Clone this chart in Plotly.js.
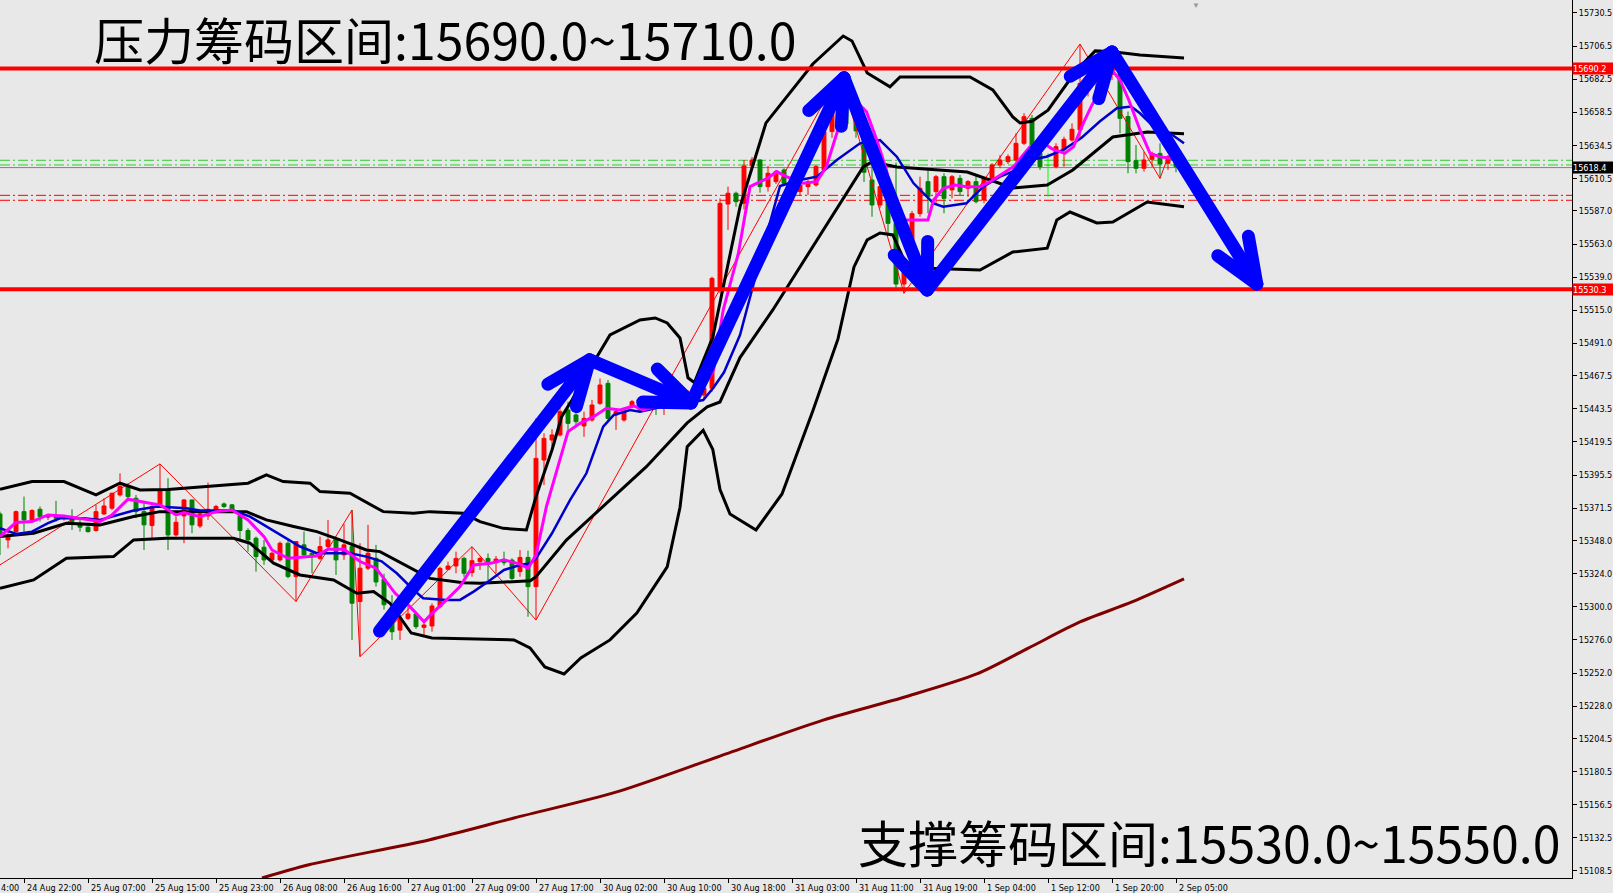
<!DOCTYPE html>
<html><head><meta charset="utf-8">
<script src="https://cdn.plot.ly/plotly-3.0.1.min.js"></script>
<style>html,body{margin:0;padding:0;background:#e8e8e8;overflow:hidden}#chart{width:1613px;height:893px}</style>
</head><body><div id="chart"></div>
<script>
// ---------- DATA ----------
const FIRST_BAR = -3; // bar index of first candle (H1 bars)
const openP = [15367.3,15348.5,15354.5,15369.0,15363.0,15370.7,15365.0,15365.9,15364.0,15364.2,15360.6,15357.7,15355.3,
15367.3,15371.5,15381.1,15387.2,15378.7,15369.0,15358.9,15373.9,15385.2,15352.1,
15365.9,15377.5,15358.6,15365.9,15369.0,15374.6,15373.9,15365.9,15355.3,15349.7,
15343.2,15334.0,15334.0,15346.1,15321.9,15344.9,15338.8,15335.2,15343.7,15348.5,
15337.6,15343.7,15303.8,15328.0,15335.2,15320.0,15295.2,15283.1,15291.6,15294.8,
15285.1,15286.1,15300.1,15327.2,15329.6,15335.1,15324.8,15332.7,15335.1,15332.0,
15334.0,15333.9,15325.5,15335.8,15314.6,15406.4,15420.9,15424.6,15442.7,15439.1,
15431.1,15435.4,15447.5,15462.0,15439.1,15435.4,15445.1,15448.7,15445.1,15447.5,
15443.9,15446.3,15451.0,15448.0,15449.9,15453.5,15458.4,15529.7,15592.0,15599.8,
15592.5,15619.6,15623.9,15604.6,15608.2,15616.7,15607.0,15601.0,15604.6,15605.8,
15616.7,15644.5,15672.3,15677.0,15668.0,15645.0,15609.4,15591.3,15603.0,15578.0,
15534.0,15545.0,15585.0,15608.2,15601.0,15611.8,15602.2,15610.6,15603.4,15608.2,
15594.9,15610.6,15620.3,15622.7,15623.9,15636.0,15654.1,15628.8,15620.0,15619.1,
15631.2,15638.4,15645.7,15679.5,15684.0,15690.0,15686.0,15686.8,15655.4,15623.4,
15617.9,15624.4,15628.7,15621.5,15626.3,15619.5];
const highP = [15369.0,15354.5,15369.8,15379.9,15370.7,15372.7,15367.3,15376.8,15366.6,15370.7,15363.0,15358.6,15373.9,
15378.7,15382.8,15396.8,15389.6,15381.1,15375.1,15375.1,15403.6,15393.2,15365.4,
15378.0,15377.5,15369.0,15390.1,15373.9,15375.6,15374.6,15369.0,15357.0,15350.9,
15348.5,15340.0,15347.3,15348.5,15347.5,15354.5,15339.5,15350.9,15363.0,15350.9,
15360.0,15370.2,15346.1,15359.4,15344.9,15324.0,15308.5,15294.0,15300.0,15296.0,
15288.0,15302.5,15329.1,15332.7,15340.0,15336.3,15343.6,15336.3,15338.7,15336.8,
15340.0,15335.1,15341.2,15340.7,15436.6,15425.8,15428.7,15446.3,15448.7,15445.1,
15441.5,15450.0,15465.5,15464.4,15443.9,15443.9,15450.0,15450.0,15449.0,15448.7,
15446.8,15453.0,15454.0,15457.0,15456.0,15460.0,15539.3,15596.1,15604.6,15601.0,
15623.9,15626.0,15624.4,15619.6,15616.7,15617.9,15610.0,15607.0,15609.4,15620.3,
15649.3,15674.0,15686.8,15680.0,15672.0,15650.0,15621.5,15609.0,15606.0,15622.0,
15548.0,15587.0,15611.8,15616.7,15613.0,15614.3,15613.0,15613.0,15609.4,15613.0,
15611.8,15621.5,15627.5,15628.0,15643.3,15657.8,15656.5,15631.2,15628.7,15636.0,
15640.8,15650.5,15708.0,15690.0,15695.0,15700.0,15698.0,15691.6,15659.0,15634.8,
15629.9,15630.0,15636.0,15627.5,15628.0,15622.0];
const lowP = [15337.6,15342.4,15353.3,15354.5,15361.8,15361.8,15363.0,15361.8,15362.5,15355.7,15354.5,15353.8,15354.5,
15366.6,15370.2,15379.9,15378.7,15364.2,15341.2,15348.5,15372.7,15341.2,15350.9,
15346.1,15353.3,15357.0,15363.0,15367.8,15371.5,15369.0,15348.5,15340.0,15325.5,
15330.4,15332.8,15332.8,15320.7,15303.8,15336.4,15324.3,15334.0,15341.2,15323.1,
15334.0,15276.0,15263.9,15326.7,15314.7,15298.0,15275.9,15276.0,15290.4,15284.0,
15278.0,15282.0,15298.9,15326.7,15324.3,15321.8,15321.8,15326.7,15319.4,15324.3,
15330.0,15319.4,15321.8,15292.8,15290.4,15388.3,15416.1,15423.4,15428.2,15430.6,
15423.3,15434.2,15446.3,15434.2,15428.2,15434.2,15443.9,15441.5,15443.9,15439.1,
15439.1,15444.0,15445.0,15446.0,15447.0,15451.0,15456.0,15527.3,15573.2,15590.0,
15588.0,15616.0,15600.2,15601.0,15606.5,15606.5,15600.0,15598.0,15598.5,15604.6,
15615.5,15640.0,15670.0,15650.0,15640.0,15608.0,15582.8,15589.0,15570.0,15530.0,
15527.3,15543.0,15582.8,15585.3,15592.5,15585.3,15596.1,15598.5,15597.3,15592.5,
15592.5,15609.4,15618.0,15621.0,15622.7,15634.8,15623.9,15616.7,15597.3,15617.9,
15619.1,15637.2,15639.6,15670.0,15675.0,15680.0,15682.0,15643.3,15614.3,15614.3,
15615.5,15619.0,15610.6,15616.7,15615.0,15616.0];
const closeP = [15350.9,15352.1,15369.0,15363.0,15369.8,15365.4,15366.6,15364.2,15365.4,15361.8,15357.7,15354.5,15369.0,
15373.1,15382.3,15387.2,15379.9,15369.0,15359.4,15372.7,15384.7,15352.1,15361.3,
15377.5,15359.4,15367.3,15370.7,15372.7,15372.7,15370.2,15355.3,15348.5,15336.4,
15334.0,15338.8,15346.1,15321.9,15347.3,15337.6,15337.6,15343.7,15348.5,15334.0,
15344.9,15302.6,15328.0,15338.8,15318.0,15301.5,15281.9,15291.6,15294.8,15285.6,
15286.8,15300.6,15327.9,15329.6,15335.1,15324.3,15333.4,15335.1,15332.7,15334.6,
15332.0,15320.6,15335.8,15314.6,15407.6,15422.1,15424.6,15441.5,15433.0,15434.2,
15436.6,15446.3,15460.8,15436.6,15441.5,15441.5,15448.7,15442.7,15447.5,15443.9,
15446.3,15451.0,15448.0,15455.0,15453.5,15458.4,15538.1,15592.5,15599.8,15593.7,
15619.6,15623.9,15604.6,15614.3,15615.5,15607.0,15603.0,15605.8,15608.2,15619.1,
15644.5,15672.3,15684.4,15668.0,15645.0,15615.0,15591.3,15604.6,15578.0,15534.0,
15546.0,15585.0,15603.4,15597.3,15611.8,15596.1,15611.8,15601.0,15608.2,15593.7,
15610.6,15620.3,15623.9,15626.3,15636.0,15655.3,15634.8,15619.1,15620.0,15633.6,
15638.9,15646.2,15679.5,15684.0,15690.0,15686.0,15687.0,15654.1,15622.7,15617.9,
15623.9,15628.7,15621.0,15626.3,15619.0,15618.4];

// Bollinger bands
const bbUpIdx = [-3,1,5,9,12,14.5,18,28,30.3,32.4,35.75,37,40.75,44.9,48.7,50.75,54.9,57,59.9,62.8,64,66,67.2,68.5,71.6,73.25,77,78.9,80.4,82,83,83.8,86.1,89.5,92.75,98.6,102.4,103.5,105.4,108.25,109.5,118.25,121.1,123.6,124.5,126,128,131.4,133.9,136.1,139.5,143.25,145];
const bbUp = [15385.2,15390.8,15390.8,15381.1,15389.6,15384.7,15385.0,15389.6,15395.6,15390.8,15389.6,15383.5,15382.3,15369.0,15367.8,15369.0,15367.8,15361.7,15356.9,15355.7,15379.9,15413.7,15437.8,15449.9,15481.1,15497.1,15508.0,15509.4,15505.8,15494.9,15466.0,15462.5,15495.6,15589.9,15650.8,15693.5,15713.8,15710.2,15687.0,15676.9,15684.1,15684.1,15674.7,15655.1,15650.8,15652.0,15660.0,15687.7,15703.0,15702.4,15700.0,15698.8,15697.9];
const bbMidIdx = [-3,1.2,5.3,9.5,13.7,17,27.8,30.3,33.7,36.6,39.5,42.8,44.5,48.7,50.75,54.9,57,63.3,64,67.8,73.7,77.8,82.9,85.4,87,89.5,93.6,104.9,106,109.1,117.9,120.75,123.6,127.9,131.1,136.1,140.4,145];
const bbMid = [15350.9,15353.3,15360.6,15359.4,15365.4,15369.0,15369.0,15363.0,15358.2,15354.5,15348.5,15341.2,15340.0,15326.7,15320.6,15317.5,15317.0,15318.9,15321.8,15348.4,15379.8,15401.6,15433.3,15444.9,15448.5,15480.7,15515.2,15618.9,15622.5,15618.9,15615.2,15609.4,15603.6,15605.8,15616.7,15640.6,15644.2,15643.0];
const bbLowIdx = [-3,1.2,5.3,11.2,13.7,17.8,26.2,28.25,31.2,34.5,38.7,41.6,43.7,45.75,48.4,51,61.25,63.25,65.1,67.5,69.6,73.25,76.6,80.4,82,82.9,84.9,86.1,87,88.25,91.5,94.75,98.6,101.75,103.75,105.4,107,108.6,110.4,112,119.5,123.6,127.9,129.1,130.75,134.1,136.1,140.4,145];
const bbLow = [15313.4,15319.5,15335.2,15336.4,15348.5,15349.7,15349.7,15346.1,15331.6,15323.1,15319.5,15309.8,15311.0,15302.6,15281.0,15277.4,15276.0,15270.2,15256.4,15251.3,15262.9,15276.0,15295.5,15329.0,15372.0,15416.0,15428.0,15414.0,15385.0,15367.3,15355.7,15381.8,15442.0,15494.2,15546.4,15566.0,15571.0,15569.6,15546.4,15545.6,15544.2,15557.2,15560.0,15580.4,15586.2,15578.3,15579.0,15593.5,15590.0];

// Fast MA (magenta)
const fastIdx = [-3,-1,1,3,5,9.5,11,13,15.75,17,19,20,22,24,26,28,30,31,33,36.5,38,40,42,44,46.4,48.25,50,51,52.8,54.5,56.2,58.3,60,62,63,64,65.3,67,68,69.5,71.2,72.8,74.5,76.2,77.4,79,80.75,82.8,84.5,86.2,87.4,89.3,90.75,92.9,94.1,95.3,97.4,99.1,100.3,101.6,102.8,104.5,105.3,106.6,107.8,109.1,113,113.7,114.9,116.4,117.8,119.5,120.75,123.7,125.75,127.8,128.5,130.1,131.2,132.4,133.5,136,137,138.1,139.5,140.75,142,143.25,145];
const fastMA = [15350.9,15361.1,15361.8,15366.6,15365.9,15361.8,15366.6,15378.0,15375.1,15373.9,15366.6,15368.3,15365.4,15369.0,15370.2,15363.0,15350.9,15341.2,15335.2,15336.9,15341.7,15341.7,15332.8,15328.0,15309.8,15300.1,15289.2,15295.3,15304.9,15314.6,15330.3,15331.5,15334.0,15331.0,15327.9,15337.5,15372.6,15406.4,15427.0,15433.0,15437.8,15443.9,15442.7,15445.6,15442.7,15445.1,15446.3,15447.5,15454.8,15471.7,15515.2,15556.3,15604.6,15610.6,15615.5,15611.8,15607.0,15608.2,15619.1,15643.3,15662.6,15663.8,15659.0,15638.4,15616.7,15580.4,15580.4,15594.9,15603.4,15605.8,15604.6,15604.6,15608.2,15619.1,15633.6,15634.8,15632.0,15628.7,15633.6,15650.5,15663.8,15689.0,15681.9,15667.4,15645.7,15628.7,15626.3,15625.1,15621.5];
// Slow MA (blue)
const slowIdx = [-3,-1,1,3,4.5,7.5,9.5,13.7,16.6,20.3,22,26.2,28.25,30.3,32.4,34.5,36.6,40.75,42.8,44.7,46.6,48.7,49.9,52.8,54.5,56.2,58.3,60,62,63.3,64,66,68.25,70.3,72.4,73.7,75.75,77,79.9,82.8,84.9,86.2,87.5,89.5,92.75,94.5,97,99.1,101.6,104.5,107,109.1,111.2,113.7,114.9,117.8,119.9,122,124.1,125.75,127.8,129.9,132.2,134.5,136.6,138.4,139.5,141.2,143.25,145];
const slowMA = [15357.0,15352.8,15354.5,15360.6,15364.2,15364.2,15363.0,15369.8,15372.7,15371.5,15369.8,15369.8,15365.4,15358.2,15350.9,15343.7,15338.8,15338.8,15336.4,15333.0,15324.3,15312.2,15306.2,15305.0,15305.0,15311.0,15319.4,15326.7,15330.3,15331.5,15335.1,15353.3,15377.4,15396.8,15430.6,15439.0,15442.7,15441.5,15445.1,15447.5,15449.9,15459.0,15470.0,15497.0,15568.0,15605.0,15609.4,15611.8,15623.9,15636.0,15638.4,15626.3,15607.0,15592.5,15590.1,15592.5,15604.6,15611.8,15616.7,15623.9,15626.3,15631.2,15640.0,15652.0,15661.5,15662.6,15657.8,15648.1,15643.3,15636.0];
// Long MA (dark red)
const longIdx = [29.75,35.6,50.6,61.25,74.1,87,99.9,110.1,119.1,125.6,132,138.5,145];
const longMA = [15103.4,15113.0,15131.0,15146.9,15165.8,15191.8,15217.9,15234.6,15251.3,15270.2,15289.0,15303.5,15320.2];
// ZigZag
const zzIdx = [-3,17,34,41,42,56,64,102,110,132,142,143];
const zzPrice = [15330.4,15403.6,15303.8,15370.2,15263.9,15343.6,15290.4,15686.8,15527.3,15708.0,15610.6,15626.3];
// Hand-drawn blue arrows (path vertices)
const arrowIdx = [44.3,70.7,83.4,102.5,112.9,136.0,154.1];
const arrowPrice = [15281.3,15479.0,15447.8,15683.5,15529.7,15702.2,15534.0];

// horizontal levels
const resistLevel = 15690.2, supportLevel = 15530.3, lastPrice = 15618.4;
const greenLevels = [15623.7, 15620.3];
const redLevels = [15598.3, 15594.7];

// axis ticks
const xTickIdx = [0,8,16,24,32,40,48,56,64,72,80,88,96,104,112,120,128,136,144];
const xTickText = ['24 Aug 22:00','25 Aug 07:00','25 Aug 15:00','25 Aug 23:00','26 Aug 08:00','26 Aug 16:00','27 Aug 01:00','27 Aug 09:00','27 Aug 17:00','30 Aug 02:00','30 Aug 10:00','30 Aug 18:00','31 Aug 03:00','31 Aug 11:00','31 Aug 19:00','1 Sep 04:00','1 Sep 12:00','1 Sep 20:00','2 Sep 05:00'];
const yTickVals = [15730.5,15706.5,15682.5,15658.5,15634.5,15610.5,15587.0,15563.0,15539.0,15515.0,15491.0,15467.5,15443.5,15419.5,15395.5,15371.5,15348.0,15324.0,15300.0,15276.0,15252.0,15228.0,15204.5,15180.5,15156.5,15132.5,15108.5];

const titleTop = '压力筹码区间:15690.0~15710.0';
const titleBottom = '支撑筹码区间:15530.0~15550.0';

// ---------- BUILD ----------
const W = 1613, H = 893, ML = 0, MR = 41, MT = 0, MB = 15;
const PW = W - ML - MR, PH = H - MT - MB;
const XR = [-3, 193.5], YR = [15103.4, 15739.9];
const smallFont = {family: '"DejaVu Sans Condensed","Liberation Sans",sans-serif', size: 9, color: '#000'};

const cx=[],co=[],ch=[],cl=[],cc=[], dx=[],dO=[],dH=[],dL=[],dC=[];
openP.forEach((o,k)=>{
  const i = FIRST_BAR + k;
  if (o === closeP[k]) { dx.push(i); dO.push(o); dH.push(highP[k]); dL.push(lowP[k]); dC.push(closeP[k]); }
  else { cx.push(i); co.push(o); ch.push(highP[k]); cl.push(lowP[k]); cc.push(closeP[k]); }
});

const lineTrace = (x,y,color,width,extra)=>Object.assign({type:'scatter',mode:'lines',x:x,y:y,hoverinfo:'skip',
  line:{color:color,width:width},showlegend:false},extra||{});

const traces = [
  lineTrace(longIdx,longMA,'#800000',3,{line:{color:'#800000',width:3,shape:'spline',smoothing:0.8}}),
  lineTrace(zzIdx,zzPrice,'#ff0000',1),
  {type:'candlestick',x:cx,open:co,high:ch,low:cl,close:cc,hoverinfo:'skip',showlegend:false,
   increasing:{line:{color:'#ff0000',width:1},fillcolor:'#ff0000'},
   decreasing:{line:{color:'#008000',width:1},fillcolor:'#008000'},whiskerwidth:0},
  {type:'candlestick',x:dx,open:dO,high:dH,low:dL,close:dC,hoverinfo:'skip',showlegend:false,
   increasing:{line:{color:'#00ff00',width:1},fillcolor:'#00ff00'},
   decreasing:{line:{color:'#00ff00',width:1},fillcolor:'#00ff00'},whiskerwidth:0},
  lineTrace(bbUpIdx,bbUp,'#000000',3),
  lineTrace(bbMidIdx,bbMid,'#000000',3),
  lineTrace(bbLowIdx,bbLow,'#000000',3),
  lineTrace(slowIdx,slowMA,'#0000cc',2.5),
  lineTrace(fastIdx,fastMA,'#ff00ff',3)
];

const shapes = [];
const hline = (y,color,width,dash)=>({type:'line',xref:'paper',x0:0,x1:1,yref:'y',y0:y,y1:y,
  line:{color:color,width:width,dash:dash||'solid'},layer:'below'});
greenLevels.forEach(v=>shapes.push(hline(v,'#32cd32',1,'10px,3px,2px,3px')));
redLevels.forEach(v=>shapes.push(hline(v,'#ff0000',1,'10px,3px,2px,3px')));
shapes.push(hline(lastPrice,'#808080',1));
shapes.push(Object.assign(hline(resistLevel,'#ff0000',4),{layer:'above'}));
shapes.push(Object.assign(hline(supportLevel,'#ff0000',4),{layer:'above'}));

const annotations = [];
// x tick labels (left aligned as in MT4)
xTickIdx.forEach((v,k)=>annotations.push({xref:'x',yref:'paper',x:v,y:0,xanchor:'left',yanchor:'top',
  xshift:1,yshift:-3,text:xTickText[k],showarrow:false,font:smallFont}));
annotations.push({xref:'paper',yref:'paper',x:0,y:0,xanchor:'left',yanchor:'top',yshift:-3,xshift:-1,
  text:'4:00',showarrow:false,font:smallFont});
// price tags on the right axis
const tag = (y,txt,bg)=>({xref:'paper',yref:'y',x:1,y:y,xanchor:'left',yanchor:'middle',xshift:0,
  text:txt,showarrow:false,bgcolor:bg,font:Object.assign({},smallFont,{color:'#fff'}),width:41,height:11,align:'left',borderpad:0});
annotations.push(tag(resistLevel,resistLevel.toFixed(1),'#ff0000'));
annotations.push(tag(supportLevel,supportLevel.toFixed(1),'#ff0000'));
annotations.push(tag(lastPrice,lastPrice.toFixed(1),'#000000'));
// arrows: shaft + two arms (arms laid out in screen pixels)
const toPx = i => (i - XR[0]) / (XR[1] - XR[0]) * PW;
const toPy = p => (YR[1] - p) / (YR[1] - YR[0]) * PH;
const ARM_LEN = 50, ARM_ANG = 22 * Math.PI / 180, ARROW_W = 13, BLUE = '#0000ff';
for (let k=0;k<arrowIdx.length-1;k++){
  const tx = arrowIdx[k+1], ty = arrowPrice[k+1];
  annotations.push({xref:'x',yref:'y',axref:'x',ayref:'y',x:tx,y:ty,ax:arrowIdx[k],ay:arrowPrice[k],
    text:'',showarrow:true,arrowhead:0,arrowwidth:ARROW_W,arrowcolor:BLUE,standoff:0});
  const vx = toPx(arrowIdx[k]) - toPx(tx), vy = toPy(arrowPrice[k]) - toPy(ty);
  const len = Math.hypot(vx, vy), ux = vx/len, uy = vy/len;
  [ARM_ANG, -ARM_ANG].forEach(a=>{
    const rx = ux*Math.cos(a) - uy*Math.sin(a), ry = ux*Math.sin(a) + uy*Math.cos(a);
    annotations.push({xref:'x',yref:'y',x:tx,y:ty,ax:rx*ARM_LEN,ay:ry*ARM_LEN,text:'',showarrow:true,
      arrowhead:0,arrowwidth:ARROW_W,arrowcolor:BLUE,standoff:0});
  });
}
// big texts
const bigFont = {family:'"Noto Sans CJK SC","Noto Sans",sans-serif',size:50,color:'#000'};
annotations.push({xref:'paper',yref:'paper',x:92/PW,y:1,xanchor:'left',yanchor:'top',text:titleTop,showarrow:false,font:bigFont});
annotations.push({xref:'paper',yref:'paper',x:856/PW,y:1-841/PH,xanchor:'left',yanchor:'middle',text:titleBottom,showarrow:false,font:bigFont});
// shift marker
annotations.push({xref:'paper',yref:'paper',x:1196/PW,y:1,xanchor:'center',yanchor:'top',yshift:3,text:'▼',showarrow:false,
  font:{size:8,color:'#9a9a9a'}});

const layout = {
  width:W,height:H,margin:{l:ML,r:MR,t:MT,b:MB,pad:0},
  paper_bgcolor:'#e8e8e8',plot_bgcolor:'#e8e8e8',showlegend:false,hovermode:false,boxmode:'overlay',
  xaxis:{range:XR,showgrid:false,zeroline:false,showline:true,linecolor:'#000',linewidth:1,
    ticks:'outside',ticklen:4,tickcolor:'#000',tickvals:xTickIdx,showticklabels:false,
    rangeslider:{visible:false},fixedrange:true},
  yaxis:{side:'right',range:YR,showgrid:false,zeroline:false,showline:true,linecolor:'#000',linewidth:1,
    ticks:'outside',ticklen:4,tickcolor:'#000',tickvals:yTickVals,ticktext:yTickVals.map(v=>v.toFixed(1)),
    tickfont:smallFont,fixedrange:true},
  shapes:shapes,annotations:annotations
};
Plotly.newPlot('chart',traces,layout,{staticPlot:true,displayModeBar:false}).then(()=>{
  document.querySelectorAll('.annotation-arrow-g path').forEach(p=>{
    p.style.strokeLinecap='round'; p.style.strokeLinejoin='round';
  });
});
</script></body></html>
